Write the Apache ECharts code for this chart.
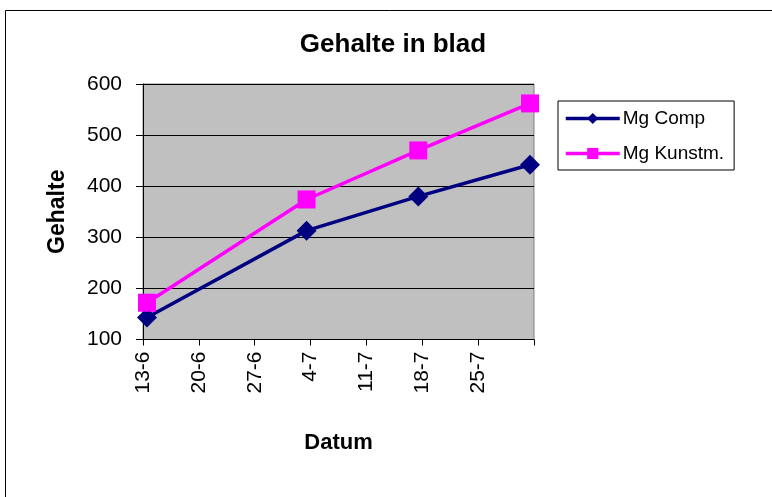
<!DOCTYPE html>
<html>
<head>
<meta charset="utf-8">
<script src="https://cdn.jsdelivr.net/npm/echarts@6/dist/echarts.min.js"></script>
<style>
  html, body { margin: 0; padding: 0; background: #fff; }
  #chart { width: 772px; height: 497px; }
</style>
</head>
<body>
<div id="chart"></div>
<script>
// measurement dates (day-month), first tick is 13-6
var dates = ['13-6', '3-7', '17-7', '31-7'];
var mgComp = [143, 313, 380, 442];
var mgKunstm = [172, 374, 470, 562];
var tickLabels = ['13-6', '20-6', '27-6', '4-7', '11-7', '18-7', '25-7', ''];

function dayOffset(s) {
    var p = s.split('-');
    var d = new Date(2001, +p[1] - 1, +p[0]);
    var start = new Date(2001, 5, 13);
    return Math.round((d - start) / 86400000);
}

// Excel date axis puts each point in the middle of its day
function pairs(vals) {
    return dates.map(function (d, i) {
        return [dayOffset(d) + 0.5, vals[i]];
    });
}

var font = 'Liberation Sans, Arial, sans-serif';
var myChart = echarts.init(document.getElementById('chart'));

var option = {
    backgroundColor: '#fff',
    animation: false,
    textStyle: { fontFamily: font },
    graphic: [{
        type: 'rect',
        shape: { x: 5.5, y: 10.5, width: 800, height: 520 },
        style: { fill: 'none', stroke: '#000', lineWidth: 1 },
        silent: true
    }],
    title: {
        text: 'Gehalte in blad',
        left: 388,
        textAlign: 'center',
        top: 27,
        textStyle: { fontFamily: font, fontSize: 26, fontWeight: 'bold', color: '#000' }
    },
    legend: {
        orient: 'vertical',
        left: 558,
        top: 101,
        padding: [8, 10, 7, 6],
        itemGap: 16,
        itemWidth: 54,
        itemHeight: 14,
        borderColor: '#000',
        borderWidth: 1,
        backgroundColor: '#fff',
        textStyle: { fontFamily: font, fontSize: 19, color: '#000', padding: [0, 0, 0, -2] },
        data: [
            { name: 'Mg Comp', lineStyle: { width: 3.5 } },
            { name: 'Mg Kunstm.', lineStyle: { width: 3.5 } }
        ]
    },
    grid: {
        left: 143,
        right: 238,
        top: 84,
        bottom: 157.5,
        show: true,
        backgroundColor: '#C0C0C0',
        borderColor: '#808080',
        borderWidth: 1
    },
    xAxis: {
        type: 'value',
        min: 0,
        max: 49,
        interval: 7,
        name: 'Datum',
        nameLocation: 'middle',
        nameGap: 92,
        nameTextStyle: { fontFamily: font, fontSize: 22, fontWeight: 'bold', color: '#000' },
        axisLine: { show: true, lineStyle: { color: '#000', width: 1 } },
        axisTick: { show: true, length: 6, lineStyle: { color: '#000' } },
        splitLine: { show: false },
        axisLabel: {
            rotate: 90,
            margin: 12,
            fontSize: 21,
            color: '#000',
            showMinLabel: true,
            showMaxLabel: true,
            formatter: function (v) { return tickLabels[Math.round(v / 7)]; }
        }
    },
    yAxis: {
        type: 'value',
        min: 100,
        max: 600,
        interval: 100,
        name: 'Gehalte',
        nameLocation: 'middle',
        nameGap: 74,
        nameTextStyle: { fontFamily: font, fontSize: 23, fontWeight: 'bold', color: '#000' },
        axisLine: { show: true, lineStyle: { color: '#000', width: 1 } },
        axisTick: { show: true, length: 7, lineStyle: { color: '#000' } },
        splitLine: { show: true, lineStyle: { color: '#000', width: 1 } },
        axisLabel: { margin: 21, fontSize: 21, color: '#000' }
    },
    series: [{
        name: 'Mg Comp',
        type: 'line',
        data: pairs(mgComp),
        symbol: 'diamond',
        symbolSize: 20,
        itemStyle: { color: '#000080' },
        lineStyle: { color: '#000080', width: 3.5 }
    }, {
        name: 'Mg Kunstm.',
        type: 'line',
        data: pairs(mgKunstm),
        symbol: 'rect',
        symbolSize: 18,
        itemStyle: { color: '#FF00FF' },
        lineStyle: { color: '#FF00FF', width: 3.5 }
    }]
};

myChart.setOption(option);
</script>
</body>
</html>
